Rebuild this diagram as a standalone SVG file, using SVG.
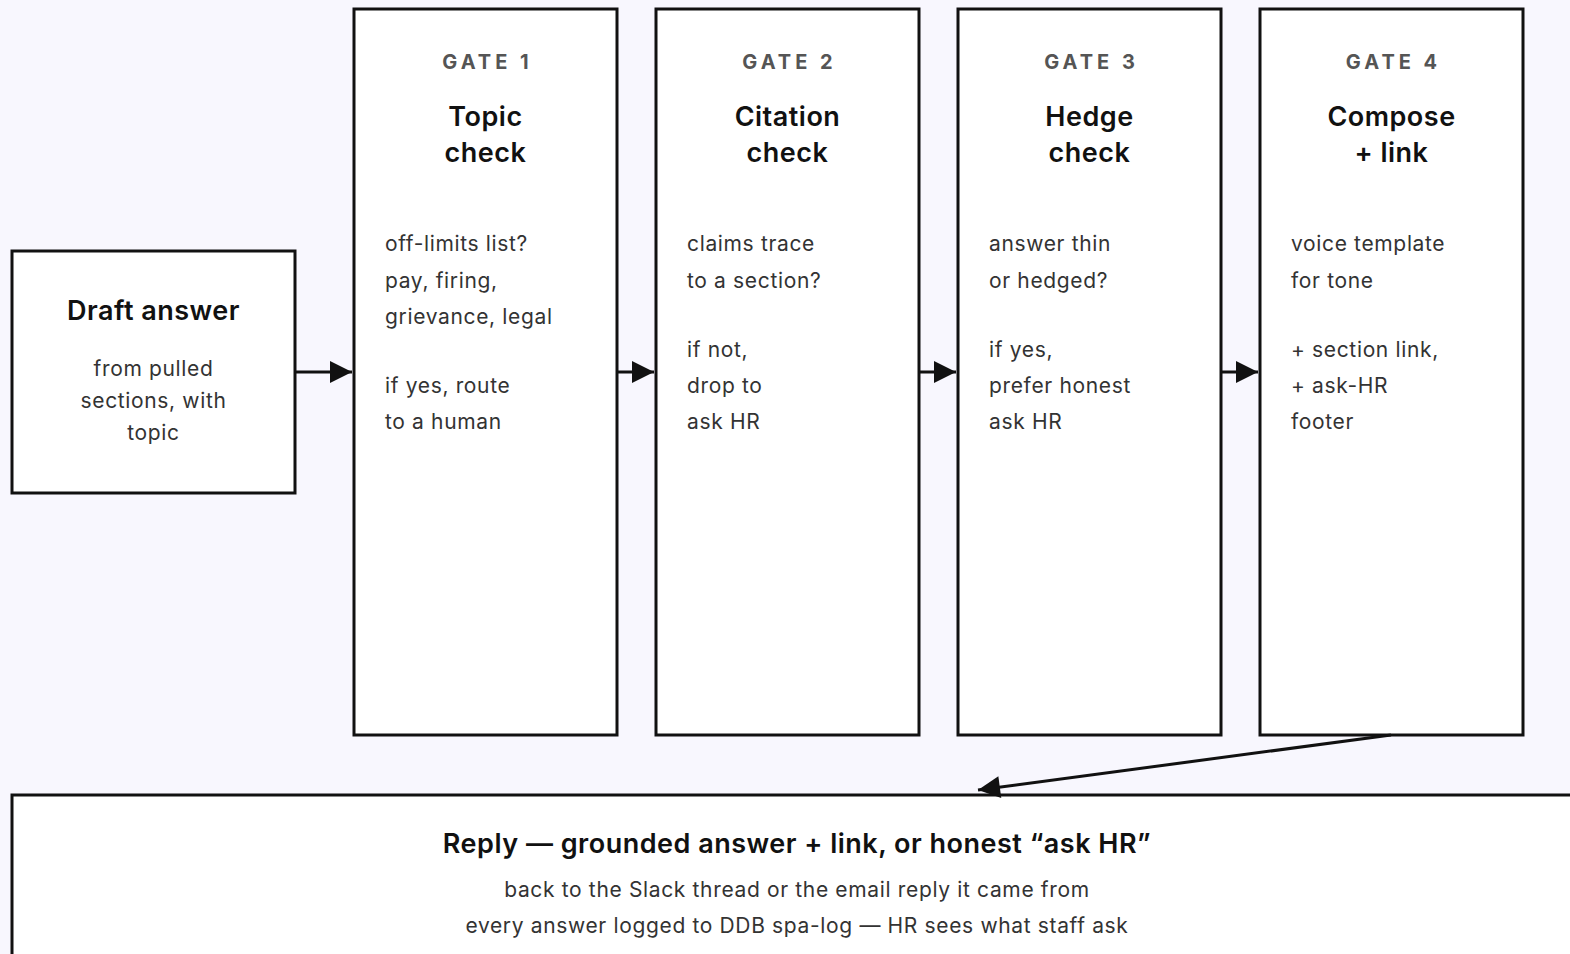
<svg xmlns="http://www.w3.org/2000/svg" width="1570" height="954" viewBox="0 0 1570 954">
<defs>
<marker id="ah2" viewBox="0 0 10 10" refX="10" refY="5" markerWidth="26" markerHeight="22" markerUnits="userSpaceOnUse" orient="auto">
<path d="M0,0 L10,5 L0,10 z" fill="#111"/>
</marker>
<style>
.box{fill:#fff;stroke:#111;stroke-width:3}
.gl{font-family:Inter,"Liberation Sans",sans-serif;font-size:20px;font-weight:700;fill:#555;letter-spacing:4px;text-anchor:middle}
.ttl{font-family:Inter,"Liberation Sans",sans-serif;font-size:27px;font-weight:600;fill:#111;text-anchor:middle;letter-spacing:0.5px}
.body{font-family:Inter,"Liberation Sans",sans-serif;font-size:21px;fill:#333;letter-spacing:0.65px}
.bc{font-family:Inter,"Liberation Sans",sans-serif;font-size:21px;fill:#333;text-anchor:middle;letter-spacing:0.65px}
.edge{stroke:#111;stroke-width:3;fill:none}
</style>
</defs>
<rect x="0" y="0" width="1570" height="954" fill="#f8f7fe"/>

<g id="draft">
<rect class="box" x="12" y="251" width="283" height="242"/>
<text class="ttl" x="153.5" y="320">Draft answer</text>
<text class="bc" x="153.5" y="376">from pulled</text>
<text class="bc" x="153.5" y="408">sections, with</text>
<text class="bc" x="153.5" y="440">topic</text>
</g>

<g id="gate1">
<rect class="box" x="354" y="9" width="263" height="726"/>
<text class="gl" x="487.5" y="69">GATE 1</text>
<text class="ttl" x="485.5" y="126">Topic</text>
<text class="ttl" x="485.5" y="162">check</text>
<text class="body" x="385" y="251">off-limits list?</text>
<text class="body" x="385" y="288">pay, firing,</text>
<text class="body" x="385" y="324">grievance, legal</text>
<text class="body" x="385" y="393">if yes, route</text>
<text class="body" x="385" y="429">to a human</text>
</g>

<g id="gate2">
<rect class="box" x="656" y="9" width="263" height="726"/>
<text class="gl" x="789.5" y="69">GATE 2</text>
<text class="ttl" x="787.5" y="126">Citation</text>
<text class="ttl" x="787.5" y="162">check</text>
<text class="body" x="687" y="251">claims trace</text>
<text class="body" x="687" y="288">to a section?</text>
<text class="body" x="687" y="357">if not,</text>
<text class="body" x="687" y="393">drop to</text>
<text class="body" x="687" y="429">ask HR</text>
</g>

<g id="gate3">
<rect class="box" x="958" y="9" width="263" height="726"/>
<text class="gl" x="1091.5" y="69">GATE 3</text>
<text class="ttl" x="1089.5" y="126">Hedge</text>
<text class="ttl" x="1089.5" y="162">check</text>
<text class="body" x="989" y="251">answer thin</text>
<text class="body" x="989" y="288">or hedged?</text>
<text class="body" x="989" y="357">if yes,</text>
<text class="body" x="989" y="393">prefer honest</text>
<text class="body" x="989" y="429">ask HR</text>
</g>

<g id="gate4">
<rect class="box" x="1260" y="9" width="263" height="726"/>
<text class="gl" x="1393.5" y="69">GATE 4</text>
<text class="ttl" x="1391.5" y="126">Compose</text>
<text class="ttl" x="1391.5" y="162">+ link</text>
<text class="body" x="1291" y="251">voice template</text>
<text class="body" x="1291" y="288">for tone</text>
<text class="body" x="1291" y="357">+ section link,</text>
<text class="body" x="1291" y="393">+ ask-HR</text>
<text class="body" x="1291" y="429">footer</text>
</g>

<g id="reply">
<rect class="box" x="12" y="795" width="1580" height="200"/>
<text class="ttl" x="797" y="853">Reply — grounded answer + link, or honest “ask HR”</text>
<text class="bc" x="797" y="897">back to the Slack thread or the email reply it came from</text>
<text class="bc" x="797" y="933">every answer logged to DDB spa-log — HR sees what staff ask</text>
</g>

<g id="connectors">
<path class="edge" d="M296,372 L352,372" marker-end="url(#ah2)"/>
<path class="edge" d="M618,372 L654,372" marker-end="url(#ah2)"/>
<path class="edge" d="M920,372 L956,372" marker-end="url(#ah2)"/>
<path class="edge" d="M1222,372 L1258,372" marker-end="url(#ah2)"/>
<path class="edge" d="M1391,735 L978,790" marker-end="url(#ah2)"/>
</g>
</svg>
